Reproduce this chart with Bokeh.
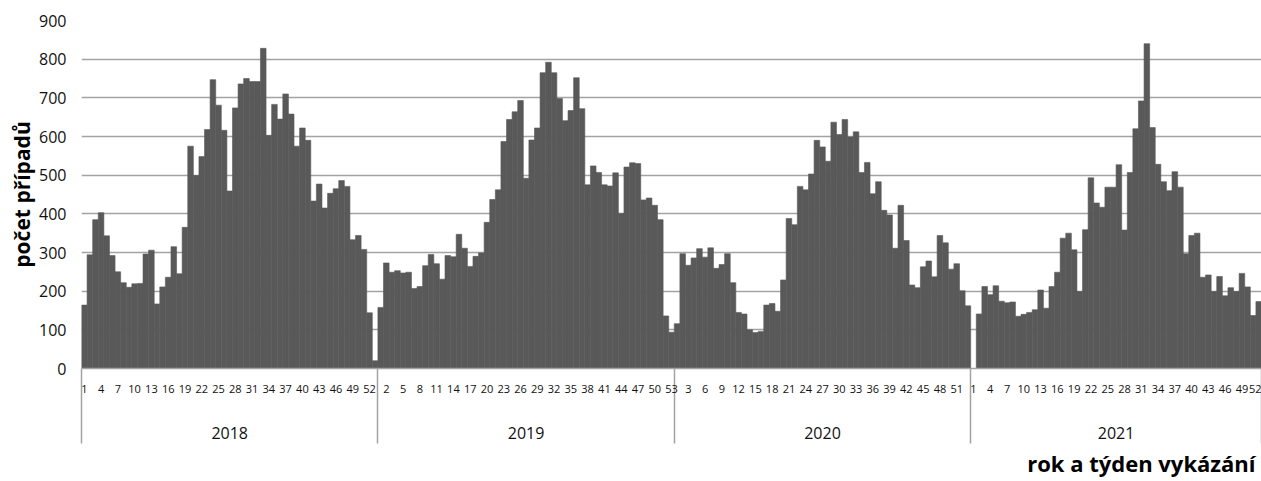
from bokeh.plotting import figure
from bokeh.models import Range1d, FixedTicker, LinearAxis, Title, ColumnDataSource
from bokeh.embed import file_html
from bokeh.resources import INLINE

years = ["2018", "2019", "2020", "2021"]

cases_2018 = [164, 294, 385, 403, 343, 292, 250, 222, 210, 219, 220, 296, 306, 167, 211, 236,
              315, 245, 365, 575, 499, 548, 618, 747, 681, 616, 459, 674, 736, 750, 742, 742,
              828, 603, 683, 645, 710, 658, 575, 622, 590, 433, 477, 415, 453, 465, 486, 471,
              333, 344, 308, 144, 20]
cases_2019 = [158, 273, 249, 253, 247, 249, 207, 212, 266, 295, 271, 231, 292, 289, 347, 311,
              264, 290, 299, 378, 437, 462, 587, 644, 664, 693, 492, 591, 622, 765, 792, 765,
              698, 641, 667, 752, 672, 475, 524, 507, 475, 472, 506, 401, 521, 532, 530, 436,
              441, 422, 385, 136, 94]
cases_2020 = [116, 297, 267, 286, 310, 288, 312, 259, 269, 297, 222, 145, 141, 100, 93, 96,
              164, 168, 148, 229, 388, 372, 471, 462, 503, 590, 573, 536, 637, 605, 644, 599,
              612, 507, 533, 452, 483, 409, 397, 311, 422, 331, 216, 209, 263, 278, 237, 344,
              325, 257, 271, 201, 162]
cases_2021 = [0, 141, 212, 191, 214, 174, 170, 172, 135, 140, 145, 152, 203, 156, 212, 249,
              337, 350, 307, 199, 359, 493, 428, 417, 469, 469, 527, 358, 507, 620, 692, 840,
              623, 528, 483, 460, 509, 469, 297, 344, 350, 236, 242, 199, 238, 188, 209, 199,
              246, 211, 137, 173]

y_ticks = [0, 100, 200, 300, 400, 500, 600, 700, 800, 900]
y_title = "počet případů"
x_title = "rok a týden vykázání"

series = [cases_2018, cases_2019, cases_2020, cases_2021]

xs, tops, weeks = [], [], []
bounds = [-0.5]
year_centers = []
i = 0
for vals in series:
    start = i
    for w, v in enumerate(vals, start=1):
        xs.append(i)
        tops.append(v)
        weeks.append(w)
        i += 1
    bounds.append(i - 0.5)
    year_centers.append((start - 0.5 + i - 0.5) / 2)
total = i

src = ColumnDataSource(dict(x=xs, top=tops))

p = figure(width=1261, height=481, output_backend="svg", toolbar_location=None,
           x_range=Range1d(-0.5, total - 0.5), y_range=Range1d(0, 900),
           min_border_left=81, min_border_right=0, min_border_top=20, min_border_bottom=113)
p.outline_line_color = None
p.background_fill_color = "white"

BAR = "#595959"
GRID = "#a3a3a3"

p.vbar(x="x", top="top", width=1.0, bottom=0, source=src,
       fill_color=BAR, line_color=BAR, line_width=0.6)

# y axis
p.yaxis.ticker = FixedTicker(ticks=y_ticks)
p.yaxis.axis_line_color = None
p.yaxis.major_tick_line_color = None
p.yaxis.minor_tick_line_color = None
p.yaxis.major_label_text_font = "Open Sans"
p.yaxis.major_label_text_font_size = "16px"
p.yaxis.major_label_text_color = "#111111"
p.yaxis.major_label_standoff = 9
p.yaxis.axis_label = y_title
p.yaxis.axis_label_text_font = "Open Sans"
p.yaxis.axis_label_text_font_style = "bold"
p.yaxis.axis_label_text_font_size = "21px"
p.yaxis.axis_label_text_color = "#000000"
p.yaxis.axis_label_standoff = 0

p.ygrid.ticker = FixedTicker(ticks=y_ticks)
p.ygrid.grid_line_color = GRID
p.ygrid.grid_line_width = 1.5
p.xgrid.grid_line_color = None

# x axis: week labels, year separators drawn as minor ticks
SEP = 75
wk_ticks = list(range(0, total, 3))
xa = p.xaxis[0]
xa.ticker = FixedTicker(ticks=wk_ticks, minor_ticks=bounds)
xa.major_label_overrides = {t: str(weeks[t]) for t in wk_ticks}
xa.axis_line_color = GRID
xa.axis_line_width = 1.5
xa.major_tick_line_color = None
xa.major_tick_out = 0
xa.major_tick_in = 0
xa.minor_tick_line_color = GRID
xa.minor_tick_line_width = 1.5
xa.minor_tick_out = SEP
xa.minor_tick_in = 0
xa.major_label_text_font = "Open Sans"
xa.major_label_text_font_size = "11px"
xa.major_label_text_color = "#111111"
xa.major_label_standoff = 16 - SEP

# year axis
ya = LinearAxis(ticker=FixedTicker(ticks=year_centers),
                major_label_overrides={c: y for c, y in zip(year_centers, years)})
ya.axis_line_color = None
ya.major_tick_line_color = None
ya.minor_tick_line_color = None
ya.major_label_text_font = "Open Sans"
ya.major_label_text_font_size = "16px"
ya.major_label_text_color = "#111111"
ya.major_label_standoff = 25
p.add_layout(ya, "below")

t = Title(text=x_title, align="right", text_font="Open Sans", text_font_style="bold",
          text_font_size="22px", text_color="#000000", offset=6, standoff=8)
p.add_layout(t, "below")

open("out.html", "w").write(file_html(p, INLINE))
